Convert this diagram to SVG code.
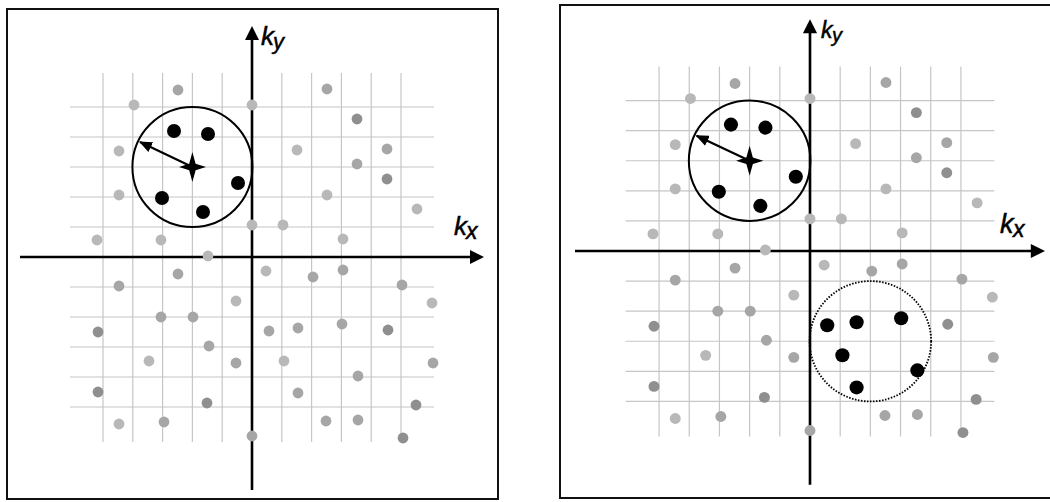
<svg xmlns="http://www.w3.org/2000/svg" xmlns:xlink="http://www.w3.org/1999/xlink" width="1050" height="502" viewBox="0 0 1050 502">
<style>
.frame{fill:none;stroke:#111;stroke-width:2}
.grid line{stroke:#c6c6c6;stroke-width:1.2}
.axis{stroke:#000;stroke-width:2.6;fill:none}
.head{fill:#000}
.l{fill:#b8b8b8}
.m{fill:#a6a6a6}
.d{fill:#8f8f8f}
.blk{fill:#000}
.sel{fill:none;stroke:#000;stroke-width:2}
.dot-sel{fill:none;stroke:#000;stroke-width:1.8;stroke-dasharray:1.5 1.5}
.lab{font-family:"Liberation Sans",Arial,sans-serif;font-style:italic;fill:#000;stroke:#000;stroke-width:0.5}
</style>
<defs>
<marker id="ah" viewBox="0 0 12 10" refX="11" refY="5" markerWidth="13" markerHeight="11" markerUnits="userSpaceOnUse" orient="auto">
<path d="M0,0 L12,5 L0,10 Z" fill="#000"/>
</marker>
<g id="grid" class="grid">
<line x1="103" y1="73" x2="103" y2="442"/>
<line x1="132.8" y1="73" x2="132.8" y2="442"/>
<line x1="162.6" y1="73" x2="162.6" y2="442"/>
<line x1="192.4" y1="73" x2="192.4" y2="442"/>
<line x1="222.2" y1="73" x2="222.2" y2="442"/>
<line x1="281.8" y1="73" x2="281.8" y2="442"/>
<line x1="311.6" y1="73" x2="311.6" y2="442"/>
<line x1="341.4" y1="73" x2="341.4" y2="442"/>
<line x1="371.2" y1="73" x2="371.2" y2="442"/>
<line x1="401" y1="73" x2="401" y2="442"/>
<line x1="70" y1="107" x2="434" y2="107"/>
<line x1="70" y1="137" x2="434" y2="137"/>
<line x1="70" y1="167" x2="434" y2="167"/>
<line x1="70" y1="197" x2="434" y2="197"/>
<line x1="70" y1="227" x2="434" y2="227"/>
<line x1="70" y1="287" x2="434" y2="287"/>
<line x1="70" y1="317" x2="434" y2="317"/>
<line x1="70" y1="347" x2="434" y2="347"/>
<line x1="70" y1="377" x2="434" y2="377"/>
<line x1="70" y1="407" x2="434" y2="407"/>
</g>
<g id="axes">
<line class="axis" x1="252" y1="490" x2="252" y2="38"/>
<polygon class="head" points="252,26 245,40 259,40"/>
<line class="axis" x1="20" y1="257" x2="471" y2="257"/>
<polygon class="head" points="484,257 470,250 470,264"/>
</g>
<g id="grayA">
<circle class="m" cx="178" cy="90" r="5.4"/>
<circle class="l" cx="134" cy="105" r="5.4"/>
<circle class="l" cx="252" cy="105" r="5.4"/>
<circle class="l" cx="119" cy="151" r="5.4"/>
<circle class="l" cx="119" cy="195" r="5.4"/>
<circle class="l" cx="252" cy="225" r="5.4"/>
<circle class="l" cx="97" cy="240" r="5.4"/>
<circle class="l" cx="161" cy="240" r="5.4"/>
<circle class="m" cx="327" cy="89" r="5.4"/>
<circle class="d" cx="357" cy="119" r="5.4"/>
<circle class="l" cx="297" cy="150" r="5.4"/>
<circle class="m" cx="387" cy="149" r="5.4"/>
<circle class="m" cx="357" cy="164" r="5.4"/>
<circle class="d" cx="387" cy="179" r="5.4"/>
<circle class="l" cx="327" cy="195" r="5.4"/>
<circle class="l" cx="417" cy="209" r="5.4"/>
<circle class="l" cx="283" cy="225" r="5.4"/>
<circle class="l" cx="343" cy="239" r="5.4"/>
<circle class="l" cx="208" cy="256" r="5.4"/>
<circle class="m" cx="178" cy="274" r="5.4"/>
<circle class="m" cx="119" cy="286" r="5.4"/>
<circle class="l" cx="236" cy="301" r="5.4"/>
<circle class="m" cx="161" cy="317" r="5.4"/>
<circle class="m" cx="193" cy="317" r="5.4"/>
<circle class="d" cx="98" cy="332" r="5.4"/>
<circle class="m" cx="209" cy="346" r="5.4"/>
<circle class="l" cx="149" cy="361" r="5.4"/>
<circle class="m" cx="236" cy="363" r="5.4"/>
<circle class="d" cx="98" cy="392" r="5.4"/>
<circle class="d" cx="207" cy="403" r="5.4"/>
<circle class="l" cx="119" cy="424" r="5.4"/>
<circle class="m" cx="164" cy="422" r="5.4"/>
<circle class="m" cx="252" cy="436" r="5.4"/>
<circle class="l" cx="266" cy="271" r="5.4"/>
<circle class="m" cx="313" cy="277" r="5.4"/>
<circle class="m" cx="343" cy="270" r="5.4"/>
<circle class="m" cx="402" cy="285" r="5.4"/>
<circle class="l" cx="432" cy="303" r="5.4"/>
<circle class="d" cx="388" cy="330" r="5.4"/>
<circle class="m" cx="433" cy="363" r="5.4"/>
<circle class="d" cx="416" cy="405" r="5.4"/>
<circle class="m" cx="326" cy="421" r="5.4"/>
<circle class="m" cx="358" cy="420" r="5.4"/>
<circle class="d" cx="403" cy="438" r="5.4"/>
</g>
<g id="grayB">
<circle class="m" cx="269" cy="331" r="5.4"/>
<circle class="m" cx="298" cy="328" r="5.4"/>
<circle class="m" cx="342" cy="324" r="5.4"/>
<circle class="l" cx="284" cy="361" r="5.4"/>
<circle class="m" cx="358" cy="376" r="5.4"/>
<circle class="m" cx="298" cy="393" r="5.4"/>
</g>
<g id="selA">
<circle class="sel" cx="192.4" cy="167" r="60"/>
<circle class="blk" cx="174" cy="131" r="7"/>
<circle class="blk" cx="208" cy="134" r="7"/>
<circle class="blk" cx="238" cy="183" r="7"/>
<circle class="blk" cx="162" cy="198" r="7"/>
<circle class="blk" cx="203" cy="212" r="7"/>
<line x1="192.4" y1="167" x2="140" y2="142" stroke="#000" stroke-width="2.2" marker-end="url(#ah)"/>
<path class="blk" d="M192.4,152 L195.6,163.8 L206,167 L195.6,170.2 L192.4,182 L189.2,170.2 L179,167 L189.2,163.8 Z"/>
</g>
</defs>

<g id="panel-left">
<rect class="frame" x="7" y="9" width="491" height="490"/>
<use href="#grid"/>
<use href="#axes"/>
<use href="#grayA"/>
<use href="#grayB"/>
<use href="#selA"/>
<text class="lab" x="261" y="45" font-size="26">k<tspan x="273" y="49" font-size="22">y</tspan></text>
<text class="lab" x="454" y="235" font-size="26">k<tspan x="466" y="239" font-size="23">x</tspan></text>
</g>

<g id="panel-right">
<rect class="frame" x="560" y="5" width="492" height="493"/>
<g transform="matrix(1.013 0 0 1.003 554.72 -6.77)">
<use href="#grid"/>
<use href="#axes"/>
<use href="#grayA"/>
<use href="#selA"/>
<g id="selB">
<circle class="dot-sel" cx="311.6" cy="347" r="60"/>
<circle class="blk" cx="269" cy="331" r="7"/>
<circle class="blk" cx="298" cy="328" r="7"/>
<circle class="blk" cx="342" cy="324" r="7"/>
<circle class="blk" cx="284" cy="361" r="7"/>
<circle class="blk" cx="358" cy="376" r="7"/>
<circle class="blk" cx="298" cy="393" r="7"/>
</g>
</g>
<text class="lab" x="821" y="38" font-size="23">k<tspan x="832" y="42" font-size="20">y</tspan></text>
<text class="lab" x="1000" y="233" font-size="27">k<tspan x="1013" y="237" font-size="23">x</tspan></text>
</g>
</svg>
